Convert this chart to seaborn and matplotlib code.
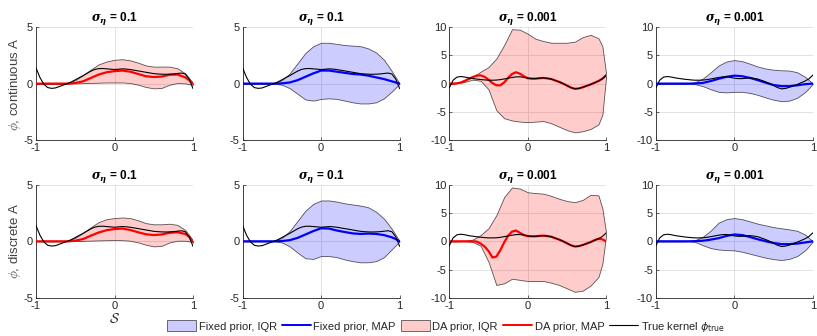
import numpy as np
import seaborn as sns
from matplotlib import pyplot as plt
from matplotlib.patches import Patch
from matplotlib.lines import Line2D

# grids (S axis)
s = [-1, -0.95, -0.9, -0.8, -0.7, -0.6, -0.5, -0.4, -0.3, -0.2, -0.1, 0,
     0.1, 0.2, 0.3, 0.4, 0.5, 0.6, 0.7, 0.8, 0.9, 0.95, 1]
s_fine = [round(-1 + 0.05 * i, 2) for i in range(41)]

# true kernels
phi_true_a = [1.4, 0.55, -0.05, -0.35, -0.42, -0.38, -0.25, -0.12, 0.0, 0.15, 0.33,
              0.52, 0.7, 0.9, 1.1, 1.25, 1.32, 1.33, 1.3, 1.27, 1.24, 1.27, 1.3, 1.28,
              1.24, 1.18, 1.12, 1.06, 1.0, 0.94, 0.88, 0.85, 0.83, 0.82, 0.83, 0.85,
              0.89, 0.93, 0.85, 0.4, -0.45]
phi_true_b = [-0.8, 0.6, 1.15, 1.25, 1.15, 1.0, 0.9, 0.8, 0.72, 0.65, 0.6, 0.6, 0.62,
              0.7, 0.82, 0.95, 1.08, 1.18, 1.2, 1.1, 0.95, 0.88, 0.88, 0.95, 1.0, 0.92,
              0.8, 0.55, 0.3, 0.0, -0.35, -0.7, -0.92, -0.85, -0.65, -0.4, -0.15, 0.15,
              0.45, 0.85, 1.5]

# continuous A, sigma 0.1
cont_da_a_hi = [0, 0, 0, 0, 0, 0.02, 0.3, 0.75, 1.25, 1.7, 1.95, 2.1, 2.15, 2.05, 1.85,
                1.6, 1.5, 1.5, 1.5, 1.35, 0.9, 0.5, 0.0]
cont_da_a_lo = [0, 0, 0, 0, 0, 0, 0.02, 0.04, 0.06, 0.08, 0.1, 0.1, 0.1, 0.05, -0.1,
                -0.3, -0.42, -0.38, -0.1, 0.05, 0.02, -0.05, -0.1]
cont_da_a_map = [0, 0, 0, 0, 0, 0, 0.05, 0.2, 0.5, 0.8, 1.0, 1.1, 1.15, 1.05, 0.85,
                 0.65, 0.58, 0.62, 0.78, 0.8, 0.55, 0.3, 0.0]
cont_fx_a_hi = [0, 0, 0, 0, 0, 0.02, 0.3, 0.9, 1.8, 2.7, 3.3, 3.6, 3.6, 3.5, 3.4, 3.35,
                3.3, 3.1, 2.75, 2.1, 1.1, 0.55, 0.0]
cont_fx_a_lo = [0, 0, 0, 0, 0, 0, -0.1, -0.4, -0.9, -1.4, -1.5, -1.35, -1.3, -1.35,
                -1.5, -1.65, -1.75, -1.75, -1.65, -1.3, -0.7, -0.35, 0.0]
cont_fx_a_map = [0, 0, 0, 0, 0, 0, 0.02, 0.1, 0.3, 0.6, 0.9, 1.15, 1.15, 1.05, 0.95,
                 0.85, 0.8, 0.7, 0.55, 0.4, 0.2, 0.1, 0.0]

# continuous A, sigma 0.001
cont_da_b_hi = [0, 0.02, 0.1, 0.5, 1.2, 2.1, 2.9, 4.4, 6.8, 9.6, 9.5, 8.8, 7.9, 7.5,
                7.2, 7.2, 7.2, 7.4, 8.2, 8.6, 8.0, 6.6, 1.5]
cont_da_b_lo = [0, 0, 0.05, 0.3, 0.7, 0.5, -1.0, -4.7, -6.1, -6.5, -6.7, -6.8, -6.7,
                -6.6, -7.0, -7.6, -8.2, -8.6, -8.4, -8.0, -7.2, -5.5, 1.5]
cont_da_b_map = [0.0, 0.0, 0.05, 0.2, 0.5, 0.85, 1.15, 1.4, 1.45, 1.2, 0.7, 0.1, -0.3,
                 -0.3, 0.2, 1.0, 1.7, 2.0, 1.75, 1.3, 0.95, 0.88, 0.88, 0.95, 1.0, 0.92,
                 0.8, 0.55, 0.3, 0.0, -0.35, -0.7, -0.92, -0.85, -0.65, -0.4, -0.15,
                 0.15, 0.45, 0.85, 1.5]
cont_fx_b_hi = [0, 0, 0, 0, 0, 0.02, 0.25, 0.9, 2.0, 3.2, 3.9, 4.15, 3.95, 3.5, 3.0,
                2.65, 2.45, 2.35, 2.3, 2.0, 1.2, 0.6, 0.0]
cont_fx_b_lo = [0, 0, 0, 0, 0, 0, -0.1, -0.45, -1.0, -1.45, -1.55, -1.45, -1.45, -1.65,
                -2.0, -2.45, -2.85, -3.1, -3.0, -2.5, -1.5, -0.8, 0.0]
cont_fx_b_map = [0, 0, 0, 0, 0, 0, 0.02, 0.12, 0.45, 0.85, 1.2, 1.4, 1.3, 1.0, 0.6,
                 0.15, -0.25, -0.45, -0.45, -0.3, -0.1, -0.05, 0.0]

# discrete A, sigma 0.1
disc_da_a_hi = [0, 0, 0, 0, 0, 0.02, 0.3, 0.75, 1.25, 1.7, 1.95, 2.05, 2.1, 2.05, 1.85,
                1.6, 1.5, 1.5, 1.55, 1.45, 1.0, 0.55, 0.0]
disc_da_a_lo = [0, 0, 0, 0, 0, 0, 0.02, 0.04, 0.06, 0.08, 0.1, 0.12, 0.1, 0.05, -0.1,
                -0.3, -0.45, -0.4, -0.1, 0.05, 0.05, 0.0, -0.1]
disc_da_a_map = [0, 0, 0, 0, 0, 0, 0.05, 0.2, 0.5, 0.78, 0.98, 1.08, 1.12, 1.0, 0.8,
                 0.62, 0.55, 0.6, 0.75, 0.8, 0.65, 0.4, 0.0]
disc_fx_a_hi = [0, 0, 0, 0, 0, 0.02, 0.3, 0.9, 1.8, 2.7, 3.3, 3.6, 3.6, 3.5, 3.35, 3.25,
                3.15, 3.0, 2.6, 2.0, 1.1, 0.55, 0.0]
disc_fx_a_lo = [0, 0, 0, 0, 0, 0, -0.1, -0.45, -1.0, -1.5, -1.55, -1.3, -1.3, -1.4,
                -1.6, -1.75, -1.85, -1.85, -1.75, -1.4, -0.7, -0.35, 0.0]
disc_fx_a_map = [0, 0, 0, 0, 0, 0, 0.02, 0.1, 0.3, 0.6, 0.9, 1.15, 1.12, 0.95, 0.82,
                 0.7, 0.65, 0.68, 0.65, 0.55, 0.35, 0.2, 0.0]

# discrete A, sigma 0.001
disc_da_b_hi = [0, 0, 0, 0.05, 0.3, 1.1, 2.3, 4.6, 7.8, 9.5, 9.3, 8.65, 8.5, 8.4, 8.0,
                7.5, 7.1, 6.9, 7.3, 8.2, 8.1, 5.8, 1.3]
disc_da_b_lo = [0, 0, 0, 0, -0.1, -0.8, -3.6, -7.7, -7.4, -6.6, -6.8, -7.0, -7.0, -7.0,
                -7.3, -7.7, -8.3, -8.9, -8.7, -7.8, -6.3, -4.0, 1.3]
disc_da_b_map = [0, 0, 0, 0, 0, 0, 0, -0.05, -0.4, -0.9, -1.7, -2.85, -2.7, -1.6, -0.2,
                 1.0, 1.7, 1.9, 1.5, 1.1, 0.92, 0.88, 0.88, 0.95, 1.0, 0.92, 0.8, 0.55,
                 0.3, 0.0, -0.35, -0.7, -0.92, -0.85, -0.65, -0.4, -0.12, 0.2, 0.45,
                 0.35, -0.05]
disc_fx_b_hi = [0, 0, 0, 0, 0, 0.02, 0.2, 0.8, 1.9, 3.3, 3.9, 4.1, 3.9, 3.5, 3.1, 2.8,
                2.5, 2.3, 2.1, 1.85, 1.2, 0.6, 0.0]
disc_fx_b_lo = [0, 0, 0, 0, 0, 0, -0.1, -0.7, -1.2, -1.45, -1.55, -1.6, -1.85, -2.2,
                -2.55, -2.9, -3.15, -3.3, -3.1, -2.6, -1.6, -0.85, 0.0]
disc_fx_b_map = [0, 0, 0, 0, 0, 0, 0.02, 0.1, 0.3, 0.55, 0.95, 1.2, 1.1, 0.75, 0.35,
                 0.0, -0.3, -0.5, -0.5, -0.4, -0.2, -0.1, 0.0]

sigma_labels = ['0.1', '0.1', '0.001', '0.001']
row_labels = ['continuous A', 'discrete A']

sns.set_theme(style='ticks')
plt.rcParams['font.family'] = ['Liberation Sans', 'DejaVu Sans']
plt.rcParams['axes.edgecolor'] = '#262626'
plt.rcParams['xtick.color'] = '#262626'
plt.rcParams['ytick.color'] = '#262626'

DARK = '#262626'
BLUE_FILL = (0, 0, 1, 0.2)
RED_FILL = (1, 0, 0, 0.2)
EDGE = (0, 0, 0, 0.65)

# (hi, lo, map, map x grid, fill, line colour, true kernel)
panels = [
	[(cont_da_a_hi, cont_da_a_lo, cont_da_a_map, s, RED_FILL, 'red', phi_true_a),
	 (cont_fx_a_hi, cont_fx_a_lo, cont_fx_a_map, s, BLUE_FILL, 'blue', phi_true_a),
	 (cont_da_b_hi, cont_da_b_lo, cont_da_b_map, s_fine, RED_FILL, 'red', phi_true_b),
	 (cont_fx_b_hi, cont_fx_b_lo, cont_fx_b_map, s, BLUE_FILL, 'blue', phi_true_b)],
	[(disc_da_a_hi, disc_da_a_lo, disc_da_a_map, s, RED_FILL, 'red', phi_true_a),
	 (disc_fx_a_hi, disc_fx_a_lo, disc_fx_a_map, s, BLUE_FILL, 'blue', phi_true_a),
	 (disc_da_b_hi, disc_da_b_lo, disc_da_b_map, s_fine, RED_FILL, 'red', phi_true_b),
	 (disc_fx_b_hi, disc_fx_b_lo, disc_fx_b_map, s, BLUE_FILL, 'blue', phi_true_b)],
]

fig, axes = plt.subplots(2, 4, figsize=(8.17, 3.36), dpi=100)
fig.subplots_adjust(left=0.044, right=0.995, top=0.92, bottom=0.113,
					wspace=0.315, hspace=0.39)

for r in range(2):
	for c in range(4):
		ax = axes[r, c]
		hi, lo, mp, sx, fill, col, true_k = panels[r][c]
		ax.fill_between(s, lo, hi, facecolor=fill, edgecolor=EDGE, linewidth=0.6, zorder=2)
		sns.lineplot(x=sx, y=mp, ax=ax, color=col, linewidth=1.6, zorder=3)
		sns.lineplot(x=s_fine, y=true_k, ax=ax, color='black', linewidth=0.8, zorder=4)

		ax.set_xlim(-1, 1)
		ax.set_xticks([-1, 0, 1])
		if c < 2:
			ax.set_ylim(-5, 5)
			ax.set_yticks([-5, 0, 5])
		else:
			ax.set_ylim(-10, 10)
			ax.set_yticks([-10, -5, 0, 5, 10])
		ax.set_xticklabels(['-1', '0', '1'])
		ax.set_yticklabels([str(int(v)) for v in ax.get_yticks()])
		ax.grid(True, color='#dedede', linewidth=0.6)
		ax.set_axisbelow(True)
		ax.tick_params(direction='in', length=2.5, width=0.5, labelsize=8, pad=2,
					   labelcolor=DARK)
		for sp in ['top', 'right']:
			ax.spines[sp].set_visible(False)
		for sp in ['left', 'bottom']:
			ax.spines[sp].set_linewidth(0.6)
		ax.set_title(r'$\mathbfit{\sigma}_{\mathbfit{\eta}}$ = ' + sigma_labels[c],
					 fontsize=8.5, fontweight='bold', pad=4, color='black',
					 math_fontfamily='dejavuserif')
		ax.set_xlabel('')
		ax.set_ylabel('')
		if c == 0:
			ax.set_ylabel(r'$\phi$, ' + row_labels[r], fontsize=9.5, color='#404040',
						  labelpad=0, math_fontfamily='cm')

axes[1, 0].set_xlabel(r'$\mathcal{S}$', fontsize=10, color='#262626', labelpad=1,
					  math_fontfamily='cm')

handles = [Patch(facecolor=BLUE_FILL, edgecolor=EDGE, linewidth=0.6),
		   Line2D([], [], color='blue', linewidth=1.4),
		   Patch(facecolor=RED_FILL, edgecolor=EDGE, linewidth=0.6),
		   Line2D([], [], color='red', linewidth=1.4),
		   Line2D([], [], color='black', linewidth=0.8)]
labels = ['Fixed prior, IQR', 'Fixed prior, MAP', 'DA prior, IQR', 'DA prior, MAP',
		  r'True kernel $\phi_{\mathrm{true}}$']
leg = fig.legend(handles, labels, loc='center', bbox_to_anchor=(0.546, 0.028), ncol=5,
				 frameon=False, fontsize=8, handlelength=2.6, handleheight=1.1,
				 handletextpad=0.25, columnspacing=0.45, borderpad=0)
leg.get_texts()[-1].set_math_fontfamily('dejavusans')

fig.savefig('out.png', dpi=100)
